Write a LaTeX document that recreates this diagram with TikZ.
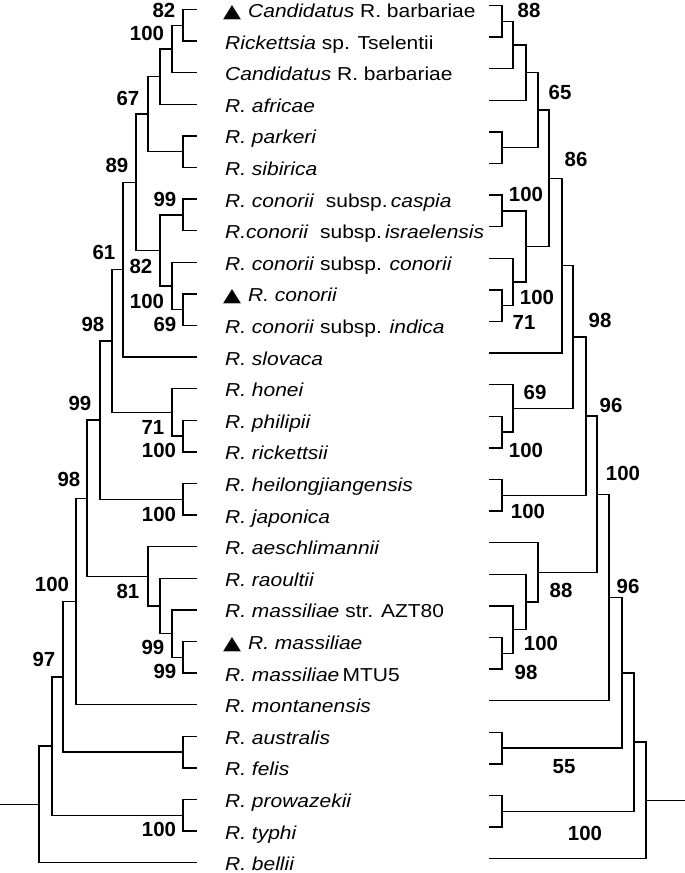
\documentclass[tikz,border=0pt]{standalone}
\usepackage{fontspec}
\setmainfont{Liberation Sans}[FakeStretch=1.12]
\newfontfamily\numfont{Liberation Sans}
\newfontfamily\symfont{DejaVu Sans}
\usetikzlibrary{calc}
\newcommand\tri{\makebox[25bp][l]{\resizebox{18bp}{12bp}{\symfont ▲}}}
\newcommand\tnode[4]{%
  \coordinate (tmpx) at (#2,0);
  \coordinate (tmpy) at ($(#3)!.5!(#4)$);
  \coordinate (#1) at (tmpx |- tmpy);
  \draw[branch] (#1) |- (#3);
  \draw[branch] (#1) |- (#4);
}
\begin{document}
\begin{tikzpicture}[x=1bp,y=-1bp,
  branch/.style={line width=1.5bp,black},
  sp/.style={anchor=base west,inner sep=0pt,font=\fontsize{18.8}{20}\selectfont},
  bs/.style={inner sep=0pt,font=\numfont\bfseries\fontsize{20.5}{20}\selectfont}]
\useasboundingbox (0,0) rectangle (685,873);
\foreach \i in {1,...,28}{
  \coordinate (L\i) at (197,{9.5+31.6*(\i-1)});
  \coordinate (R\i) at (489,{5.5+31.6*(\i-1)});
}
% species labels
\node[sp] (t1) at ($(L1)+(26,8)$) {\tri\textit{Candidatus} R. barbariae};
\node[sp] (t2) at ($(L2)+(28,8)$) {\textit{Rickettsia} sp. Tselentii};
\node[sp] (t3) at ($(L3)+(28,8)$) {\textit{Candidatus} R. barbariae};
\node[sp] (t4) at ($(L4)+(28,8)$) {\textit{R. africae}};
\node[sp] (t5) at ($(L5)+(28,8)$) {\textit{R. parkeri}};
\node[sp] (t6) at ($(L6)+(28,8)$) {\textit{R. sibirica}};
\node[sp] (t7) at ($(L7)+(28,8)$) {\textit{R. conorii}\ \ subsp.\,\textit{caspia}};
\node[sp] (t8) at ($(L8)+(28,8)$) {\textit{R.conorii}\ \ subsp.\,\textit{israelensis}};
\node[sp] (t9) at ($(L9)+(28,8)$) {\textit{R. conorii} subsp. \textit{conorii}};
\node[sp] (t10) at ($(L10)+(26,8)$) {\tri\textit{R. conorii}};
\node[sp] (t11) at ($(L11)+(28,8)$) {\textit{R. conorii} subsp. \textit{indica}};
\node[sp] (t12) at ($(L12)+(28,8)$) {\textit{R. slovaca}};
\node[sp] (t13) at ($(L13)+(28,8)$) {\textit{R. honei}};
\node[sp] (t14) at ($(L14)+(28,8)$) {\textit{R. philipii}};
\node[sp] (t15) at ($(L15)+(28,8)$) {\textit{R. rickettsii}};
\node[sp] (t16) at ($(L16)+(28,8)$) {\textit{R. heilongjiangensis}};
\node[sp] (t17) at ($(L17)+(28,8)$) {\textit{R. japonica}};
\node[sp] (t18) at ($(L18)+(28,8)$) {\textit{R. aeschlimannii}};
\node[sp] (t19) at ($(L19)+(28,8)$) {\textit{R. raoultii}};
\node[sp] (t20) at ($(L20)+(28,8)$) {\textit{R. massiliae} str. AZT80};
\node[sp] (t21) at ($(L21)+(26,8)$) {\tri\textit{R. massiliae}};
\node[sp] (t22) at ($(L22)+(28,8)$) {\textit{R. massiliae}\,MTU5};
\node[sp] (t23) at ($(L23)+(28,8)$) {\textit{R. montanensis}};
\node[sp] (t24) at ($(L24)+(28,8)$) {\textit{R. australis}};
\node[sp] (t25) at ($(L25)+(28,8)$) {\textit{R. felis}};
\node[sp] (t26) at ($(L26)+(28,8)$) {\textit{R. prowazekii}};
\node[sp] (t27) at ($(L27)+(28,8)$) {\textit{R. typhi}};
\node[sp] (t28) at ($(L28)+(28,8)$) {\textit{R. bellii}};
% left tree
\tnode{A}{183}{L1}{L2}
\tnode{B}{172}{A}{L3}
\tnode{C}{160}{B}{L4}
\tnode{D}{183}{L5}{L6}
\tnode{E}{148}{C}{D}
\tnode{F}{183}{L7}{L8}
\tnode{G}{183}{L10}{L11}
\tnode{H}{172}{L9}{G}
\tnode{I}{160}{F}{H}
\tnode{J}{136}{E}{I}
\tnode{K}{123}{J}{L12}
\tnode{M}{183}{L14}{L15}
\tnode{Lh}{172}{L13}{M}
\tnode{N}{112}{K}{Lh}
\tnode{P}{183}{L16}{L17}
\tnode{O}{100}{N}{P}
\tnode{Rm}{183}{L21}{L22}
\tnode{S}{172}{L20}{Rm}
\tnode{T}{160}{L19}{S}
\tnode{Q}{148}{L18}{T}
\tnode{U}{87}{O}{Q}
\tnode{V}{76}{U}{L23}
\tnode{W}{183}{L24}{L25}
\tnode{X}{63}{V}{W}
\tnode{Y}{183}{L26}{L27}
\tnode{Z}{52}{X}{Y}
\tnode{lroot}{39}{Z}{L28}
\coordinate (lend) at (0,0);
\draw[branch] (lroot) -- (lend |- lroot);
% right tree
\tnode{ra}{502}{R1}{R2}
\tnode{rb}{513}{ra}{R3}
\tnode{rc}{526}{rb}{R4}
\tnode{rd}{502}{R5}{R6}
\tnode{re}{538}{rc}{rd}
\tnode{rf}{502}{R7}{R8}
\tnode{rg}{502}{R10}{R11}
\tnode{rh}{513}{R9}{rg}
\tnode{ri}{526}{rf}{rh}
\tnode{rj}{549}{re}{ri}
\tnode{rk}{562}{rj}{R12}
\tnode{rl}{502}{R14}{R15}
\tnode{rm}{513}{R13}{rl}
\tnode{rn}{573}{rk}{rm}
\tnode{ro}{502}{R16}{R17}
\tnode{rp}{586}{rn}{ro}
\tnode{rr}{502}{R21}{R22}
\tnode{rs}{513}{R20}{rr}
\tnode{rt}{526}{R19}{rs}
\tnode{ru}{538}{R18}{rt}
\tnode{rq}{597}{rp}{ru}
\tnode{rv}{609}{rq}{R23}
\tnode{rx}{502}{R24}{R25}
\tnode{rw}{622}{rv}{rx}
\tnode{ry}{502}{R26}{R27}
\tnode{rz}{634}{rw}{ry}
\tnode{rroot}{646}{rz}{R28}
\coordinate (rend) at (685,0);
\draw[branch] (rroot) -- (rend |- rroot);
% left support values
\node[bs] (la1) at (164,10) {82};
\node[bs] (la2) at (147,33) {100};
\node[bs] (la3) at (128,98) {67};
\node[bs] (la4) at (117,165) {89};
\node[bs] (la5) at (165,199) {99};
\node[bs] (la6) at (104,252) {61};
\node[bs] (la7) at (141,266) {82};
\node[bs] (la8) at (147,301) {100};
\node[bs] (la9) at (165,324) {69};
\node[bs] (la10) at (93,324) {98};
\node[bs] (la11) at (80,403) {99};
\node[bs] (la12) at (153,427) {71};
\node[bs] (la13) at (159,450) {100};
\node[bs] (la14) at (69,479) {98};
\node[bs] (la15) at (159,514) {100};
\node[bs] (la16) at (52,584) {100};
\node[bs] (la17) at (128,591) {81};
\node[bs] (la18) at (153,647) {99};
\node[bs] (la19) at (165,671) {99};
\node[bs] (la20) at (44,659) {97};
\node[bs] (la21) at (159,829) {100};
% right support values
\node[bs] (ra1) at (529,10) {88};
\node[bs] (ra2) at (560,92) {65};
\node[bs] (ra3) at (576,159) {86};
\node[bs] (ra4) at (526,194) {100};
\node[bs] (ra5) at (537,297) {100};
\node[bs] (ra6) at (524,322) {71};
\node[bs] (ra7) at (600,320) {98};
\node[bs] (ra8) at (535,392) {69};
\node[bs] (ra9) at (611,405) {96};
\node[bs] (ra10) at (526,450) {100};
\node[bs] (ra11) at (623,473) {100};
\node[bs] (ra12) at (528,511) {100};
\node[bs] (ra13) at (561,590) {88};
\node[bs] (ra14) at (628,586) {96};
\node[bs] (ra15) at (541,643) {100};
\node[bs] (ra16) at (526,672) {98};
\node[bs] (ra17) at (564,767) {55};
\node[bs] (ra18) at (585,833) {100};
\end{tikzpicture}
\end{document}
